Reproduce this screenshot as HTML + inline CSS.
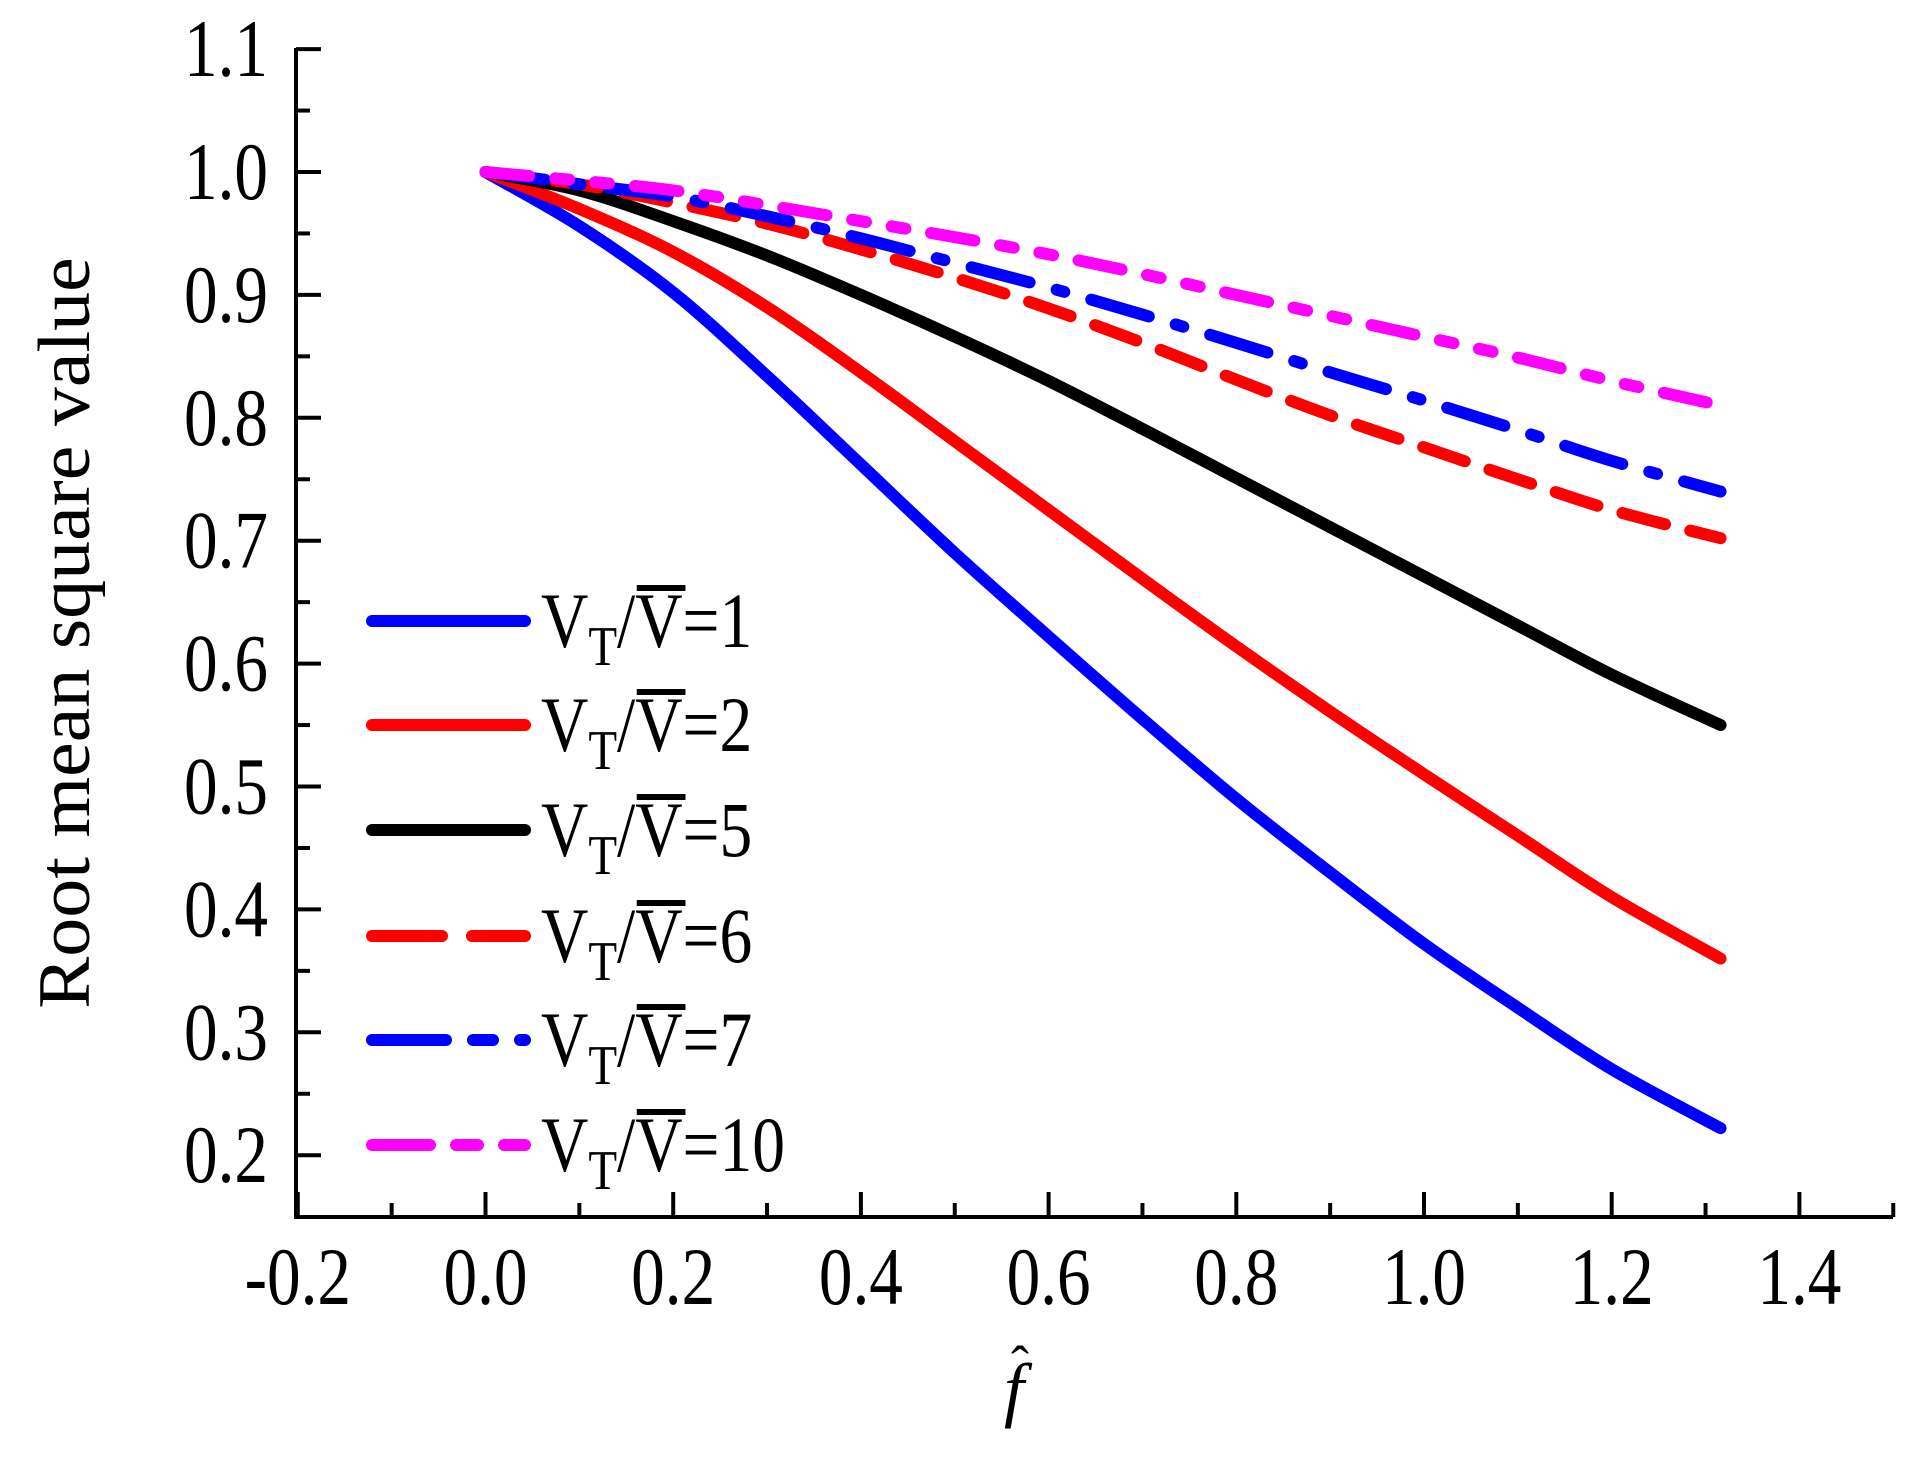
<!DOCTYPE html>
<html><head><meta charset="utf-8"><style>
html,body{margin:0;padding:0;background:#fff;}
svg, svg text{font-family:"Liberation Serif","Times New Roman",Times,serif;}
</style></head><body>
<svg id="chart" width="1926" height="1461" viewBox="0 0 1926 1461" xmlns="http://www.w3.org/2000/svg">
<g id="axes"></g>
<g id="series"></g>
<g id="legend"></g>
<text transform="translate(89,633) rotate(-90) scale(1,0.95)" text-anchor="middle" font-size="78">Root mean square value</text>
<text x="1014" y="1413" font-size="72" font-style="italic" text-anchor="middle">f</text>
<text x="1020" y="1383" font-size="54" text-anchor="middle">ˆ</text>
</svg>
<script>
const xs = [0,0.1,0.2,0.3,0.4,0.5,0.6,0.7,0.8,0.9,1.0,1.1,1.2,1.316];
const s1 = [1,0.956,0.902,0.834,0.762,0.69,0.622,0.555,0.49,0.43,0.372,0.32,0.27,0.222];
const s2 = [1,0.97,0.935,0.89,0.837,0.781,0.725,0.669,0.614,0.561,0.51,0.46,0.41,0.36];
const s5 = [1,0.985,0.96,0.932,0.9,0.866,0.83,0.791,0.751,0.711,0.671,0.631,0.591,0.55];
const s6 = [1,0.99,0.975,0.958,0.937,0.914,0.889,0.861,0.831,0.802,0.776,0.75,0.725,0.702];
const s7 = [1,0.99,0.98,0.964,0.946,0.926,0.906,0.884,0.861,0.837,0.814,0.79,0.765,0.74];
const s10 = [1,0.993,0.985,0.973,0.96,0.947,0.933,0.917,0.9,0.883,0.866,0.849,0.83,0.81];
const seriesLabels = ["1","2","5","6","7","10"];
const xTicks = ["-0.2","0.0","0.2","0.4","0.6","0.8","1.0","1.2","1.4"];
const yTicks = ["0.2","0.3","0.4","0.5","0.6","0.7","0.8","0.9","1.0","1.1"];

const NS="http://www.w3.org/2000/svg";
const X=v=>485.5+(v)*938.5;
const Y=v=>172-(v-1.0)*1229;
const axisX=296, axisY=1217, rightX=1893;
function mk(tag,attrs,parent){const e=document.createElementNS(NS,tag);for(const k in attrs)e.setAttribute(k,attrs[k]);parent.appendChild(e);return e;}
const axes=document.getElementById('axes');
let a=mk('line',{x1:axisX,y1:48,x2:axisX,y2:axisY+2,stroke:'#000','stroke-width':4},axes);


a=mk('line',{x1:axisX-2,y1:axisY,x2:rightX,y2:axisY,stroke:'#000','stroke-width':4},axes);


yTicks.forEach((t,i)=>{
  const v=parseFloat(t), y=Y(v);
  const l=mk('line',{x1:axisX,y1:y,x2:axisX+25,y2:y,stroke:'#000','stroke-width':4},axes);
  
  
  const m=mk('line',{x1:axisX,y1:Y(v+0.05),x2:axisX+14,y2:Y(v+0.05),stroke:'#000','stroke-width':4},axes);
  
  
  const tx=mk('text',{x:0,y:0,'font-size':82,'text-anchor':'end',transform:'translate(268,'+(y+27)+') scale(0.82,1)'},axes);
  tx.textContent=t;
  
  
});
xTicks.forEach((t,i)=>{
  const v=parseFloat(t), x=X(v);
  const l=mk('line',{x1:x,y1:axisY,x2:x,y2:axisY-25,stroke:'#000','stroke-width':4},axes);
  
  
  if(v<1.45){const m=mk('line',{x1:X(v+0.1),y1:axisY,x2:X(v+0.1),y2:axisY-14,stroke:'#000','stroke-width':4},axes);
  
  }
  const tx=mk('text',{x:0,y:0,'font-size':82,'text-anchor':'middle',transform:'translate('+x+',1304) scale(0.82,1)'},axes);
  tx.textContent=t;
  
  
});
const styles=[
 {c:'#0000ff',d:'none',data:s1},
 {c:'#ff0000',d:'none',data:s2},
 {c:'#000000',d:'none',data:s5},
 {c:'#ff0000',d:'44 26',data:s6},
 {c:'#0000ff',d:'60 28 8 28',data:s7},
 {c:'#ff00ff',d:'44 26 14 26 14 26',data:s10}
];
const legDash=['none','none','none','70 30','74 27 20 27 16','58 26 22 26 22'];
const sg=document.getElementById('series'), lg=document.getElementById('legend');
styles.forEach((s,i)=>{
  const pts=xs.map((x,j)=>[X(x),Y(s.data[j])]);
  let d='M'+pts[0][0]+','+pts[0][1];
  for(let j=1;j<pts.length;j++){
    const p0=pts[Math.max(j-2,0)],p1=pts[j-1],p2=pts[j],p3=pts[Math.min(j+1,pts.length-1)];
    const c1=[p1[0]+(p2[0]-p0[0])/6,p1[1]+(p2[1]-p0[1])/6],c2=[p2[0]-(p3[0]-p1[0])/6,p2[1]-(p3[1]-p1[1])/6];
    d+=' C'+c1+' '+c2+' '+p2;
  }
  const p=mk('path',{d:d,fill:'none',stroke:s.c,'stroke-width':12,'stroke-dasharray':s.d,'stroke-linecap':'round'},sg);
  
  
  const ly=[621,725,830,936,1040,1145][i];
  const ll=mk('line',{x1:372,y1:ly,x2:525,y2:ly,stroke:s.c,'stroke-width':12,'stroke-dasharray':legDash[i],'stroke-linecap':'round'},lg);
  
  
  const g=mk('g',{transform:'translate(541,'+(ly+26)+') scale(0.84,1)'},lg);
  
  
  const t=mk('text',{x:0,y:0,'font-size':78},g);
  t.innerHTML='V<tspan font-size="56" dy="18">T</tspan><tspan dy="-18">/V=</tspan>'+seriesLabels[i];
  mk('rect',{x:114,y:-62,width:58,height:6,fill:'#000'},g);
});
</script>
</body></html>
